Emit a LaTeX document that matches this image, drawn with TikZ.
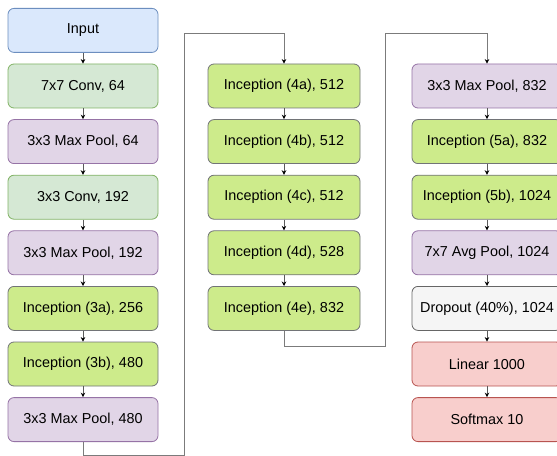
\documentclass[tikz,border=0pt]{standalone}
\usepackage{fontspec}
\setmainfont{Liberation Sans}
\usetikzlibrary{arrows.meta}
\definecolor{bluef}{HTML}{DAE8FC}\definecolor{blued}{HTML}{6C8EBF}
\definecolor{greenf}{HTML}{D5E8D4}\definecolor{greend}{HTML}{82B366}
\definecolor{purpf}{HTML}{E1D5E7}\definecolor{purpd}{HTML}{9673A6}
\definecolor{incf}{HTML}{CDEB8B}\definecolor{incd}{HTML}{36393D}
\definecolor{grayf}{HTML}{F5F5F5}\definecolor{grayd}{HTML}{666666}
\definecolor{redf}{HTML}{F8CECC}\definecolor{redd}{HTML}{B85450}
\definecolor{linec}{HTML}{5A5A5A}
\tikzset{
  box/.style={rounded corners=4.5pt, line width=0.6pt, minimum width=112.5pt, minimum height=33pt, anchor=north, inner sep=0pt, font=\fontsize{10.8pt}{12pt}\selectfont},
  inputbox/.style={box, fill=bluef, draw=blued},
  convbox/.style={box, fill=greenf, draw=greend},
  poolbox/.style={box, fill=purpf, draw=purpd},
  incbox/.style={box, fill=incf, draw=incd!70},
  dropbox/.style={box, fill=grayf, draw=grayd},
  fcbox/.style={box, fill=redf, draw=redd},
  conn/.style={draw=linec, line width=0.6pt, -{Stealth[length=3.4pt,width=3.4pt,black]}},
  link/.style={draw=linec!80, line width=0.75pt, -{Stealth[length=3.4pt,width=3.4pt,black]}}
}
\begin{document}
\begin{tikzpicture}[x=0.75pt, y=-0.75pt]
\useasboundingbox (0,0) rectangle (557,456);
\clip (0,0) rectangle (557,456);
\fill[white] (0,0) rectangle (557,456);
% column 1
\node[inputbox] (c1) at (83,8) {Input};
\node[convbox] (c2) at (83,63.6) {7x7 Conv, 64};
\node[poolbox] (c3) at (83,119.2) {3x3 Max Pool, 64};
\node[convbox] (c4) at (83,174.8) {3x3 Conv, 192};
\node[poolbox] (c5) at (83,230.4) {3x3 Max Pool, 192};
\node[incbox] (c6) at (83,286) {Inception (3a), 256};
\node[incbox] (c7) at (83,341.6) {Inception (3b), 480};
\node[poolbox] (c8) at (83,397.2) {3x3 Max Pool, 480};
% column 2
\node[incbox, minimum width=114pt] (d1) at (284,63.6) {Inception (4a), 512};
\node[incbox, minimum width=114pt] (d2) at (284,119.2) {Inception (4b), 512};
\node[incbox, minimum width=114pt] (d3) at (284,174.8) {Inception (4c), 512};
\node[incbox, minimum width=114pt] (d4) at (284,230.4) {Inception (4d), 528};
\node[incbox, minimum width=114pt] (d5) at (284,286) {Inception (4e), 832};
% column 3
\node[poolbox] (e1) at (487,63.6) {3x3 Max Pool, 832};
\node[incbox] (e2) at (487,119.2) {Inception (5a), 832};
\node[incbox] (e3) at (487,174.8) {Inception (5b), 1024};
\node[poolbox] (e4) at (487,230.4) {7x7 Avg Pool, 1024};
\node[dropbox] (e5) at (487,286) {Dropout (40\%), 1024};
\node[fcbox] (e6) at (487,341.6) {Linear 1000};
\node[fcbox] (e7) at (487,397.2) {Softmax 10};
% arrows in columns
\foreach \a/\b in {c1/c2,c2/c3,c3/c4,c4/c5,c5/c6,c6/c7,c7/c8,d1/d2,d2/d3,d3/d4,d4/d5,e1/e2,e2/e3,e3/e4,e4/e5,e5/e6,e6/e7}
  \draw[conn] (\a.south) -- (\b.north);
% links between columns
\draw[link] (c8.south) -- ++(0,13) -| (184,34) -| (d1.north);
\draw[link] (d5.south) -- ++(0,15.4) -| (385,34) -| (e1.north);
\end{tikzpicture}
\end{document}
